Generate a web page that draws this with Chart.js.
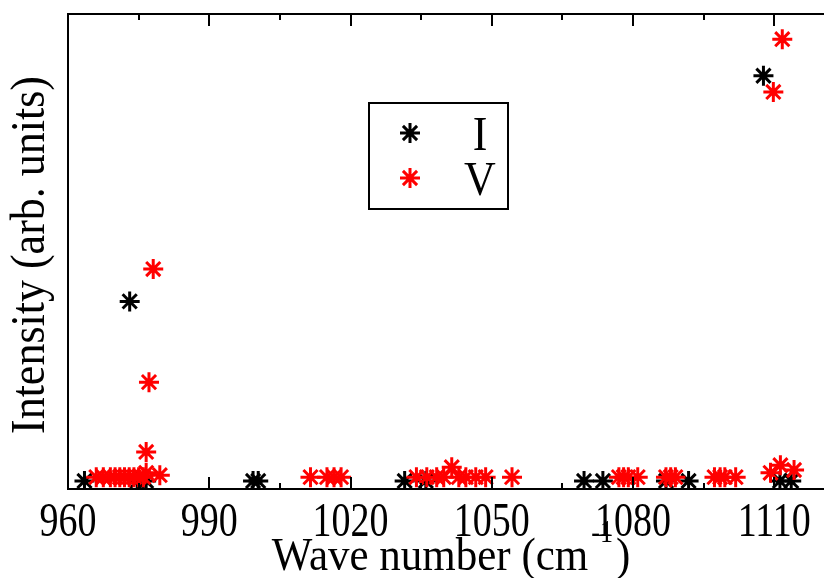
<!DOCTYPE html>
<html>
<head>
<meta charset="utf-8">
<script src="https://cdn.jsdelivr.net/npm/chart.js@4.4.0/dist/chart.umd.min.js"></script>
<style>
  html, body { margin: 0; padding: 0; background: #fff; overflow: hidden; }
  #spectrum-chart { display: block; }
</style>
</head>
<body>
<canvas id="spectrum-chart" width="824" height="578"></canvas>
<script>
// Raman lines, I and V polarisation (intensity in arbitrary units)
const waveNumbersI = [963.5, 973.1, 974.7, 976.6, 999.3, 1000.4, 1031.5, 1036.0, 1069.6, 1073.6, 1087.0, 1091.8, 1107.7, 1111.2, 1113.6];
const intensityI   = [1.7, 39.5, 1.7, 1.7, 1.7, 1.7, 1.7, 1.7, 1.7, 1.7, 1.7, 1.7, 87.0, 1.7, 1.7];

const waveNumbersV = [966.0, 967.5, 969.0, 970.0, 971.0, 972.0, 973.0, 974.0, 975.0, 976.0, 976.6, 976.6, 977.2, 978.1, 979.5,
                      1011.5, 1015.0, 1016.5, 1018.0,
                      1034.0, 1036.2, 1038.3, 1039.8, 1041.5, 1043.0, 1044.5, 1046.6, 1048.7, 1054.3,
                      1077.0, 1078.0, 1079.0, 1081.0,
                      1087.0, 1088.0, 1089.0,
                      1097.3, 1098.5, 1099.5, 1101.8,
                      1109.2, 1109.8, 1111.3, 1111.7, 1114.2];
const intensityV   = [2.5, 2.5, 2.5, 2.5, 2.5, 2.5, 2.5, 2.5, 2.5, 2.5, 3.4, 7.8, 22.5, 46.3, 2.9,
                      2.5, 2.5, 2.5, 2.5,
                      2.5, 2.5, 2.5, 2.5, 4.6, 2.5, 2.5, 2.5, 2.5, 2.5,
                      2.5, 2.5, 2.5, 2.5,
                      2.5, 2.5, 2.5,
                      2.5, 2.5, 2.5, 2.5,
                      3.4, 83.6, 5.0, 94.7, 4.0];

const seriesNames = ['I', 'V'];
const seriesColors = ['#000000', '#ff0000'];
const xTickLabels = [960, 990, 1020, 1050, 1080, 1110];
const xMinorTicks = [975, 1005, 1035, 1065, 1095];

const serif = '"Liberation Serif", "DejaVu Serif", serif';

document.addEventListener('DOMContentLoaded', function() {
    const canvas = document.getElementById('spectrum-chart');

    function toPoints(xs, ys) {
        return xs.map((x, i) => ({ x: x, y: ys[i] }));
    }

    // text drawn a little taller than wide, like the plotting program's font
    function tallText(ctx, text, x, y, stretch) {
        ctx.save();
        ctx.translate(x, y);
        ctx.scale(1, stretch);
        ctx.fillText(text, 0, 0);
        ctx.restore();
    }

    // frame with inward ticks, tick labels, axis titles and the boxed legend
    const framePlugin = {
        id: 'frame',
        afterDraw(chart) {
            const ctx = chart.ctx;
            const area = chart.chartArea;
            const xScale = chart.scales.x;

            ctx.save();
            ctx.strokeStyle = '#000';
            ctx.lineWidth = 2;
            ctx.beginPath();
            ctx.moveTo(area.left, area.top);
            ctx.lineTo(area.left, area.bottom);
            ctx.moveTo(area.left - 1, area.bottom);
            ctx.lineTo(chart.width, area.bottom);
            ctx.moveTo(area.left - 1, area.top);
            ctx.lineTo(chart.width, area.top);
            ctx.stroke();

            function tick(value, len) {
                const px = Math.round(xScale.getPixelForValue(value));
                ctx.beginPath();
                ctx.moveTo(px, area.bottom);
                ctx.lineTo(px, area.bottom - len);
                ctx.moveTo(px, area.top);
                ctx.lineTo(px, area.top + len);
                ctx.stroke();
            }
            xTickLabels.forEach(v => tick(v, 12));
            xMinorTicks.forEach(v => tick(v, 6));

            ctx.fillStyle = '#000';
            ctx.textAlign = 'center';
            ctx.textBaseline = 'alphabetic';
            ctx.font = '38px ' + serif;
            xTickLabels.forEach(v => {
                tallText(ctx, String(v), xScale.getPixelForValue(v), area.bottom + 47, 1.3);
            });

            // x title with superscript
            const mainText = 'Wave number (cm';
            const supText = '-1';
            const closeText = ')';
            ctx.font = '43px ' + serif;
            const wMain = ctx.measureText(mainText).width;
            const wClose = ctx.measureText(closeText).width;
            ctx.font = '26px ' + serif;
            const wSup = ctx.measureText(supText).width;
            const total = wMain + wSup + wClose;
            let tx = 448 - total / 2;
            const tBase = area.bottom + 81;
            ctx.textAlign = 'left';
            ctx.font = '43px ' + serif;
            tallText(ctx, mainText, tx, tBase, 1.1);
            tx += wMain;
            ctx.font = '26px ' + serif;
            tallText(ctx, supText, tx + 3, tBase - 28, 1.2);
            tx += wSup + 6;
            ctx.font = '43px ' + serif;
            tallText(ctx, closeText, tx, tBase, 1.1);

            // y title
            ctx.save();
            ctx.translate(44, 255);
            ctx.rotate(-Math.PI / 2);
            ctx.textAlign = 'center';
            ctx.font = '44px ' + serif;
            tallText(ctx, 'Intensity (arb. units)', 0, 0, 1.1);
            ctx.restore();

            // legend box
            const box = { left: 369, top: 103, width: 139, height: 106 };
            ctx.lineWidth = 2;
            ctx.strokeStyle = '#000';
            ctx.strokeRect(box.left, box.top, box.width, box.height);
            const rows = [box.top + 30, box.top + 75];
            seriesNames.forEach((name, i) => {
                ctx.strokeStyle = seriesColors[i];
                ctx.fillStyle = seriesColors[i];
                ctx.lineWidth = 3;
                Chart.helpers.drawPoint(ctx, { pointStyle: 'star', radius: 10, rotation: 0, borderWidth: 3 }, box.left + 41, rows[i]);
                ctx.fillStyle = '#000';
                ctx.textAlign = 'center';
                ctx.font = '44px ' + serif;
                tallText(ctx, name, box.left + 111, rows[i] + 17, 1.1);
            });
            ctx.restore();
        }
    };

    new Chart(canvas, {
        type: 'scatter',
        data: {
            datasets: [{
                label: seriesNames[1],
                data: toPoints(waveNumbersV, intensityV),
                pointStyle: 'star',
                pointRadius: 10,
                pointBorderWidth: 3,
                borderColor: seriesColors[1],
                backgroundColor: seriesColors[1],
                order: 0
            }, {
                label: seriesNames[0],
                data: toPoints(waveNumbersI, intensityI),
                pointStyle: 'star',
                pointRadius: 10,
                pointBorderWidth: 3,
                borderColor: seriesColors[0],
                backgroundColor: seriesColors[0],
                order: 1
            }]
        },
        options: {
            responsive: false,
            animation: false,
            layout: {
                padding: { left: 68, top: 14, right: 0, bottom: 89 }
            },
            scales: {
                x: { type: 'linear', min: 960, max: 1117.8, display: false },
                y: { type: 'linear', min: 0, max: 100, display: false }
            },
            plugins: {
                legend: { display: false },
                tooltip: { enabled: false }
            }
        },
        plugins: [framePlugin]
    });
});
</script>
</body>
</html>
